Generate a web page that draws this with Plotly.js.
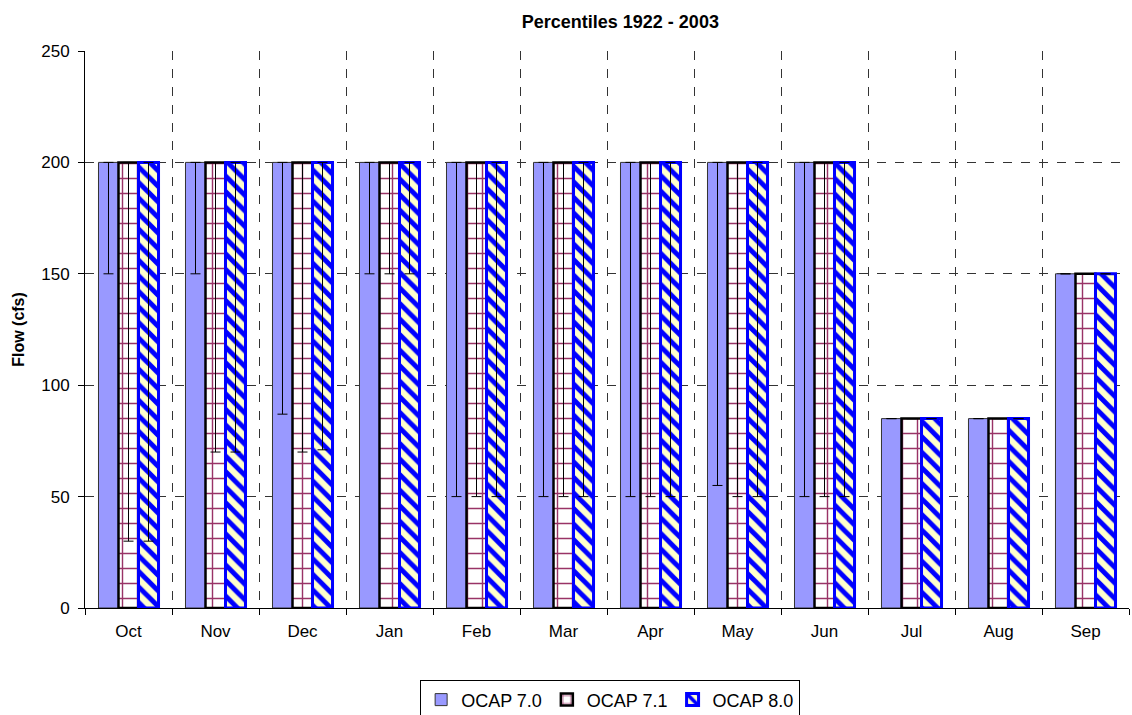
<!DOCTYPE html>
<html>
<head>
<meta charset="utf-8">
<script src="https://cdn.plot.ly/plotly-3.0.1.min.js"></script>
<style>html,body{margin:0;padding:0;background:#fff;}#chart{width:1132px;height:715px;}</style>
</head>
<body>
<div id="chart"></div>
<script>
const months = ["Oct","Nov","Dec","Jan","Feb","Mar","Apr","May","Jun","Jul","Aug","Sep"];
const ocap70 = [200,200,200,200,200,200,200,200,200,85,85,150];
const ocap71 = [200,200,200,200,200,200,200,200,200,85,85,150];
const ocap80 = [200,200,200,200,200,200,200,200,200,85,85,150];
// lower ends of the error bars (null = none)
const low70 = [150,150,87,150,50,50,50,55,50,null,null,null];
const low71 = [30,70,70,150,50,50,50,50,50,null,null,null];
const low80 = [30,70,71,150,50,50,50,50,50,null,null,null];

function minus(vals, lows){ return vals.map((v,i)=> lows[i]==null ? 0 : v - lows[i]); }
function errY(vals, lows){
  return {type:'data', symmetric:false, array:vals.map(()=>0), arrayminus:minus(vals,lows),
          color:'#000', thickness:1, width:5, visible:true};
}

const traces = [
  {type:'bar', name:'OCAP 7.0', x:months, y:ocap70,
   marker:{color:'#9999FF', line:{color:'#333333', width:1}},
   error_y: errY(ocap70, low70)},
  {type:'bar', name:'OCAP 7.1', x:months, y:ocap71,
   marker:{color:'#FFFFFF', line:{color:'#000000', width:2.5},
     pattern:{shape:'+', fgcolor:'#993366', bgcolor:'#FFFFFF', size:15, solidity:0.18, fillmode:'replace'}},
   error_y: errY(ocap71, low71)},
  {type:'bar', name:'OCAP 8.0', x:months, y:ocap80,
   marker:{color:'#FFFFCC', line:{color:'#0000FF', width:3},
     pattern:{shape:'\\', fgcolor:'#0000FF', bgcolor:'#FFFFCC', size:11, solidity:0.45, fillmode:'replace'}},
   error_y: errY(ocap80, low80)}
];

const layout = {
  width:1132, height:715,
  margin:{l:85, r:3, t:51, b:107, autoexpand:false},
  paper_bgcolor:'#fff', plot_bgcolor:'#fff',
  font:{family:'Liberation Sans, Arial, sans-serif', size:17, color:'#000'},
  title:{text:'<b>Percentiles 1922 - 2003</b>', font:{size:18}, x:0.548, xanchor:'center', y:0.97, yanchor:'middle'},
  barmode:'group', bargap:0.31, bargroupgap:0,
  xaxis:{type:'category', tickson:'boundaries', ticks:'outside', ticklen:6, tickcolor:'#000',
    showline:true, linecolor:'#000', linewidth:1,
    showgrid:true, gridcolor:'#333', griddash:'dash', gridwidth:1,
    tickfont:{size:17}, ticklabelstandoff:8, automargin:false},
  yaxis:{range:[0,250], dtick:50, ticks:'outside', ticklen:6, tickcolor:'#000',
    showline:true, linecolor:'#000', linewidth:1,
    showgrid:true, gridcolor:'#333', griddash:'dash', gridwidth:1, zeroline:false,
    title:{text:'<b>Flow (cfs)</b>', font:{size:16}, standoff:12},
    tickfont:{size:17}, ticklabelstandoff:5, automargin:false},
  showlegend:true,
  legend:{orientation:'h', x:0.503, xanchor:'center', y:-0.13, yanchor:'top',
    bordercolor:'#000', borderwidth:1, font:{size:18}, traceorder:'normal',
    itemwidth:30, tracegroupgap:0}
};

Plotly.newPlot('chart', traces, layout, {displayModeBar:false, staticPlot:true});
</script>
</body>
</html>
